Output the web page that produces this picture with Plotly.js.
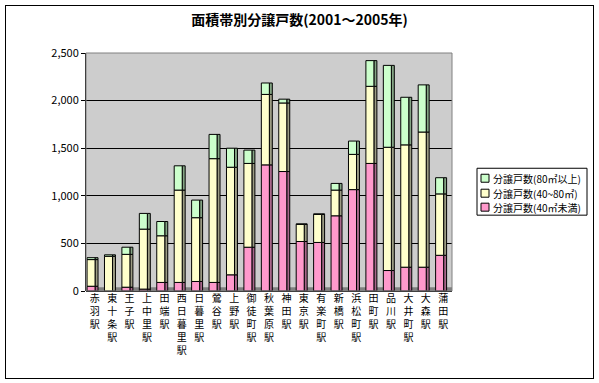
<!DOCTYPE html>
<html>
<head>
<meta charset="utf-8">
<script src="https://cdn.plot.ly/plotly-3.0.1.min.js"></script>
<style>
html,body{margin:0;padding:0;background:#fff;}
#wrap{position:relative;width:599px;height:383px;}
#chart{width:599px;height:383px;}
#frame{position:absolute;left:5px;top:5px;width:587px;height:372px;border:1px solid #000;pointer-events:none;}
</style>
</head>
<body>
<div id="wrap"><div id="chart"></div><div id="frame"></div></div>
<script>
// Data
var stations = ['赤羽駅','東十条駅','王子駅','上中里駅','田端駅','西日暮里駅','日暮里駅','鶯谷駅','上野駅','御徒町駅','秋葉原駅','神田駅','東京駅','有楽町駅','新橋駅','浜松町駅','田町駅','品川駅','大井町駅','大森駅','蒲田駅'];
var under40 = [50,0,40,20,90,90,100,90,170,460,1325,1255,520,510,790,1065,1340,215,250,250,375];
var mid40to80 = [280,365,345,630,490,970,670,1300,1130,880,740,720,180,295,270,370,810,1295,1285,1420,645];
var over80 = [20,15,75,165,150,255,185,255,200,140,120,40,5,5,70,140,270,860,500,495,170];
var seriesNames = ['分譲戸数(40㎡未満)','分譲戸数(40~80㎡)','分譲戸数(80㎡以上)'];
var yTicks = [0,500,1000,1500,2000,2500];

var FONT = '"Noto Sans CJK JP", "Noto Sans", sans-serif';
var xIdx = stations.map(function(s,i){return i;});
var tickText = stations.map(function(s){return s.split('').join('<br>');});

var base1 = under40.map(function(){return 0;});
var base2 = under40.slice();
var base3 = under40.map(function(v,i){return v + mid40to80[i];});

var faceCol = ['#ff99cc','#ffffcc','#ccffcc'];
var sideCol = ['#a8668a','#9c9c84','#84a484'];
var vals = [under40, mid40to80, over80];
var bases = [base1, base2, base3];

var traces = [];
for (var k=0;k<3;k++){
  traces.push({
    type:'bar', x:xIdx, y:vals[k], base:bases[k],
    offset:0.02, width:0.17,
    marker:{color:sideCol[k], line:{color:'#000', width:1}},
    showlegend:false, hoverinfo:'skip'
  });
}
for (var k=0;k<3;k++){
  traces.push({
    type:'bar', x:xIdx, y:vals[k], base:bases[k], name:seriesNames[k],
    offset:-0.44, width:0.46, showlegend:false,
    marker:{color:faceCol[k], line:{color:'#000', width:1}}
  });
}

// custom legend (pixel layout converted to paper coords)
var L = 86, W = 366, B = 291, H = 238.5;
function px(x){return (x-L)/W;}
function py(y){return (B-y)/H;}
var shapes = [
  {type:'rect', xref:'paper', yref:'y', x0:0, x1:1, y0:0, y1:40, layer:'below',
   fillcolor:'#808080', line:{width:0}},
  {type:'rect', xref:'paper', yref:'paper', x0:0, x1:1, y0:0, y1:1, layer:'above',
   fillcolor:'rgba(0,0,0,0)', line:{color:'#808080', width:1}},
  {type:'rect', xref:'paper', yref:'paper', x0:px(477), x1:px(587), y0:py(215), y1:py(168),
   fillcolor:'#ffffff', line:{color:'#000', width:1}}
];
var annotations = [];
var rowY = [207, 193, 178]; // pink, yellow, green (bottom to top)
for (var k=0;k<3;k++){
  shapes.push({type:'rect', xref:'paper', yref:'paper', x0:px(481), x1:px(489),
    y0:py(rowY[k]+4), y1:py(rowY[k]-4), fillcolor:faceCol[k], line:{color:'#000', width:1}});
  annotations.push({xref:'paper', yref:'paper', x:px(491), y:py(rowY[k]), xanchor:'left', yanchor:'middle',
    text:seriesNames[k], showarrow:false, font:{family:FONT, size:10, color:'#000'}});
}

var layout = {
  width:599, height:383,
  margin:{l:86, r:147, t:53, b:92},
  paper_bgcolor:'#ffffff',
  plot_bgcolor:'#cdcdcd',
  barmode:'overlay',
  showlegend:false,
  font:{family:FONT, size:11, color:'#000'},
  title:{text:'面積帯別分譲戸数(2001～2005年)', font:{family:FONT, size:14, color:'#000', weight:'bold'},
         xref:'container', x:0.5, xanchor:'center', yref:'container', y:0.948, yanchor:'middle'},
  xaxis:{
    range:[-0.5, stations.length-0.5],
    tickmode:'array', tickvals:xIdx, ticktext:tickText,
    tickfont:{family:FONT, size:10, color:'#000'},
    showgrid:false, zeroline:false, showline:false, ticks:'', fixedrange:true
  },
  yaxis:{
    range:[0,2500], tickmode:'array', tickvals:yTicks,
    tickformat:',d',
    tickfont:{family:FONT, size:11, color:'#000'},
    showgrid:true, gridcolor:'#000', gridwidth:1,
    zeroline:true, zerolinecolor:'#000',
    showline:true, linecolor:'#000', linewidth:1,
    ticks:'outside', ticklen:4, tickcolor:'#000'
  },
  shapes:shapes,
  annotations:annotations
};

Plotly.newPlot('chart', traces, layout, {staticPlot:true, displayModeBar:false});
</script>
</body>
</html>
